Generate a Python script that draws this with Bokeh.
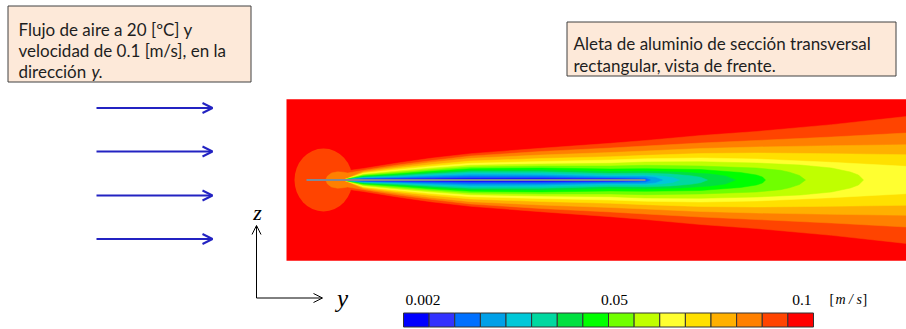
from bokeh.plotting import figure
from bokeh.models import Range1d, Arrow, OpenHead
from bokeh.core.properties import value
from bokeh.embed import file_html
from bokeh.resources import INLINE

# ---------------------------------------------------------------------------
# Velocity field around the fin (front view), contour bands of |v| [m/s].
# Coordinates in mm: y measured downstream from the fin leading edge,
# z measured from the fin mid-plane. Each band is given by its half-width
# at a number of downstream stations.
# ---------------------------------------------------------------------------
LEVEL_COLORS = ["#0000FF", "#3232FF", "#0070FF", "#00A0E8", "#00C8D8", "#00D8A0",
                "#00E040", "#00FF00", "#70FF00", "#C0FF00", "#FFFF30", "#FFE000",
                "#FFB000", "#FF8000", "#FF4400", "#FF0000"]
TICK_LABELS = ["0.002", "0.05", "0.1"]
UNIT_LABEL = "m / s"

DOMAIN_Y = [-20, 600]
DOMAIN_Z = [-80.75, 80.75]
FIN_Y = [0, 339]

# stagnation zone at the leading edge (band 14)
BUBBLE_Y, BUBBLE_W, BUBBLE_H = 17, 58, 63

WAKE_Y_14 = [20, 37, 46, 57, 91, 124, 164, 234, 304, 339, 394, 450, 525, 600]
WAKE_H_14 = [0, 8.5, 10, 11.5, 17, 21.7, 26.3, 31.7, 36.7, 39.5, 44.5, 48.5, 55.3, 63.5]
WAKE_Y_13 = [19, 21, 25, 31, 37, 41, 46, 57, 91, 124, 164, 234, 304, 339, 394, 450, 525, 600]
WAKE_H_13 = [0, 4, 7, 8.2, 7.8, 7, 7.8, 9.7, 15, 19.3, 24, 28.5, 32, 34, 37, 39.5, 43, 47]
WAKE_Y_12 = [37, 57, 91, 124, 164, 234, 304, 339, 394, 450, 525, 600]
WAKE_H_12 = [0, 8.6, 13.3, 17.5, 21.7, 25, 27.5, 29, 31.5, 33, 34.3, 35.3]
WAKE_Y_11 = [37, 57, 91, 124, 164, 234, 304, 339, 394, 450, 525, 600]
WAKE_H_11 = [0, 7.6, 11.7, 15.3, 19, 21.5, 23.3, 24.7, 26.5, 27, 26.3, 25.3]
WAKE_Y_10 = [37, 57, 91, 124, 164, 234, 304, 339, 394, 450, 525, 600]
WAKE_H_10 = [0, 6.7, 10.3, 13.5, 16.7, 18.5, 20, 21.3, 22, 21, 17.7, 13.7]
WAKE_Y_9 = [37, 57, 91, 124, 164, 234, 304, 339, 394, 450, 494, 525, 544, 552, 557]
WAKE_H_9 = [0, 5.8, 9, 11.8, 14.7, 16, 16.7, 18, 18.3, 17, 15, 12, 8, 5, 0]
WAKE_Y_8 = [37, 57, 91, 124, 164, 234, 304, 339, 394, 450, 474, 483, 493, 499]
WAKE_H_8 = [0, 5.0, 7.7, 10.3, 13, 14, 14, 14.7, 14, 12, 9.7, 7.8, 4.5, 0]
WAKE_Y_7 = [37, 57, 91, 124, 164, 234, 304, 339, 394, 434, 450, 456, 459]
WAKE_H_7 = [0, 4.1, 6.3, 8.8, 11.3, 12, 11, 11.3, 10.5, 7.5, 5, 3, 0]
WAKE_Y_6 = [37, 57, 91, 124, 164, 234, 304, 339, 374, 404, 419, 429]
WAKE_H_6 = [0, 3.4, 5.3, 7.5, 9.7, 10, 8.5, 8.7, 8, 6, 4, 0]
WAKE_Y_5 = [37, 57, 91, 124, 164, 234, 304, 339, 364, 384, 394, 401]
WAKE_H_5 = [0, 2.8, 4.3, 6.2, 8.3, 8.3, 6.5, 6.8, 6, 4.3, 2.8, 0]
WAKE_Y_4 = [37, 57, 91, 124, 164, 234, 304, 339, 354, 366, 373]
WAKE_H_4 = [0, 2.2, 3.3, 4.9, 6.7, 6.5, 4.8, 4.8, 4, 2.5, 0]
WAKE_Y_3 = [37, 57, 91, 124, 164, 234, 304, 339, 349, 356]
WAKE_H_3 = [0, 1.7, 2.7, 4, 5.3, 5, 3.4, 3.5, 2.5, 0]
WAKE_Y_2 = [37, 57, 91, 124, 164, 234, 304, 339, 344]
WAKE_H_2 = [0, 1.3, 2, 2.8, 3.7, 3.5, 2.3, 2, 0]
WAKE_Y_1 = [37, 57, 91, 124, 164, 234, 304, 330, 340]
WAKE_H_1 = [0, 0.9, 1.3, 1.8, 2.3, 2.2, 1.4, 1, 0]
WAKE_Y_0 = [37, 57, 91, 124, 164, 234, 304, 324, 334]
WAKE_H_0 = [0, 0.5, 0.7, 1, 1.3, 1.2, 0.8, 0.5, 0]

WAKE_BANDS = [
    (14, WAKE_Y_14, WAKE_H_14), (13, WAKE_Y_13, WAKE_H_13), (12, WAKE_Y_12, WAKE_H_12),
    (11, WAKE_Y_11, WAKE_H_11), (10, WAKE_Y_10, WAKE_H_10), (9, WAKE_Y_9, WAKE_H_9),
    (8, WAKE_Y_8, WAKE_H_8), (7, WAKE_Y_7, WAKE_H_7), (6, WAKE_Y_6, WAKE_H_6),
    (5, WAKE_Y_5, WAKE_H_5), (4, WAKE_Y_4, WAKE_H_4), (3, WAKE_Y_3, WAKE_H_3),
    (2, WAKE_Y_2, WAKE_H_2), (1, WAKE_Y_1, WAKE_H_1), (0, WAKE_Y_0, WAKE_H_0),
]

# ---------------------------------------------------------------------------
# Page layout (pixels of the 906 x 329 canvas)
# ---------------------------------------------------------------------------
W, H = 906, 329
ORIGIN_PX, CENTER_PY = 306, 179.5


def sx(px):
    return px - ORIGIN_PX


def sy(py):
    return CENTER_PY - py


p = figure(width=W, height=H, output_backend="svg", toolbar_location=None,
           x_range=Range1d(sx(0), sx(W)), y_range=Range1d(sy(H), sy(0)),
           x_axis_location=None, y_axis_location=None, min_border=0)
p.grid.visible = False
p.outline_line_color = None
p.background_fill_color = "white"
p.border_fill_color = "white"

# free stream
p.quad(left=DOMAIN_Y[0], right=DOMAIN_Y[1], bottom=DOMAIN_Z[0], top=DOMAIN_Z[1],
       fill_color=LEVEL_COLORS[15], line_color=None)
p.ellipse(x=BUBBLE_Y, y=0, width=BUBBLE_W, height=BUBBLE_H,
          fill_color=LEVEL_COLORS[14], line_color=None)

for level, ys, hs in WAKE_BANDS:
    px_ = list(ys) + list(reversed(ys))
    pz_ = list(hs) + [-h for h in reversed(hs)]
    p.patch(px_, pz_, fill_color=LEVEL_COLORS[level], line_color=LEVEL_COLORS[level],
            line_width=0.5)

# the fin itself, seen edge-on
p.line(FIN_Y, [0, 0], line_color="#7E8A98", line_width=2)

# ---- annotation boxes ----
BOX_FILL, BOX_LINE = "#FDE9D9", "#404040"
p.quad(left=sx(7.5), right=sx(250.5), top=sy(5.5), bottom=sy(81.5),
       fill_color=BOX_FILL, line_color=BOX_LINE, line_width=1)
p.quad(left=sx(566.5), right=sx(895.5), top=sy(21.5), bottom=sy(75.5),
       fill_color=BOX_FILL, line_color=BOX_LINE, line_width=1)

sans = value("Lato")
fs = "17px"
txt = "#1E1E1E"
p.text(x=[sx(18)] * 2, y=[sy(28.5), sy(50)],
       text=["Flujo de aire a 20 [ºC] y", "velocidad de 0.1 [m/s], en la"],
       text_font=sans, text_font_size=fs, text_color=txt,
       text_baseline="alphabetic", text_align="left")
p.text(x=[sx(18)], y=[sy(71)], text=["dirección"],
       text_font=sans, text_font_size=fs, text_color=txt,
       text_baseline="alphabetic", text_align="left")
p.text(x=[sx(91)], y=[sy(71)], text=["y."],
       text_font=sans, text_font_size=fs, text_font_style="italic", text_color=txt,
       text_baseline="alphabetic", text_align="left")
p.text(x=[sx(573)], y=[sy(43)], text=["Aleta de aluminio de sección transversal"],
       text_font=sans, text_font_size=fs, text_color=txt,
       text_baseline="alphabetic", text_align="left")
p.text(x=[sx(573)], y=[sy(64.5)], text=["rectangular, vista de frente."],
       text_font=sans, text_font_size=fs, text_color=txt,
       text_baseline="alphabetic", text_align="left")

# ---- incoming flow arrows ----
FLOW_COLOR = "#2323C2"
for py in [107.5, 151, 195, 238.5]:
    p.add_layout(Arrow(x_start=sx(96), y_start=sy(py), x_end=sx(212), y_end=sy(py),
                       line_color=FLOW_COLOR, line_width=2,
                       end=OpenHead(size=10, line_color=FLOW_COLOR, line_width=2)))

# ---- y / z axis triad ----
p.add_layout(Arrow(x_start=sx(256), y_start=sy(297.5), x_end=sx(256), y_end=sy(225),
                   line_color="black", line_width=1,
                   end=OpenHead(size=9, line_color="black", line_width=1)))
p.add_layout(Arrow(x_start=sx(256), y_start=sy(297.5), x_end=sx(322), y_end=sy(297.5),
                   line_color="black", line_width=1,
                   end=OpenHead(size=9, line_color="black", line_width=1)))
serif = value("Liberation Serif")
p.text(x=[sx(257)], y=[sy(212)], text=["z"], text_font=serif, text_font_size="22px",
       text_font_style="italic", text_align="center", text_baseline="alphabetic",
       text_color="black")
p.text(x=[sx(342)], y=[sy(298)], text=["y"], text_font=serif, text_font_size="25px",
       text_font_style="italic", text_align="center", text_baseline="alphabetic",
       text_color="black")

# ---- colour scale ----
BAR_L, BAR_R, BAR_T, BAR_B = 403, 813, 312.5, 326.5
n = len(LEVEL_COLORS)
cw = (BAR_R - BAR_L) / n
p.quad(left=[sx(BAR_L + i * cw) for i in range(n)],
       right=[sx(BAR_L + (i + 1) * cw) for i in range(n)],
       top=sy(BAR_T), bottom=sy(BAR_B), fill_color=LEVEL_COLORS,
       line_color="#333333", line_width=1)

tick_px = [405, 614, 811]
tick_align = ["left", "center", "right"]
for lbl, tx, al in zip(TICK_LABELS, tick_px, tick_align):
    p.text(x=[sx(tx)], y=[sy(299.5)], text=[lbl], text_font=serif, text_font_size="15.5px",
           text_align=al, text_baseline="alphabetic", text_color="black")
p.text(x=[sx(829)], y=[sy(298.5)], text=["["], text_font=serif, text_font_size="14px",
       text_align="left", text_baseline="alphabetic", text_color="black")
p.text(x=[sx(835)], y=[sy(298.5)], text=[UNIT_LABEL], text_font=serif, text_font_size="14px",
       text_font_style="italic", text_align="left", text_baseline="alphabetic", text_color="black")
p.text(x=[sx(862)], y=[sy(298.5)], text=["]"], text_font=serif, text_font_size="14px",
       text_align="left", text_baseline="alphabetic", text_color="black")

open("out.html", "w").write(file_html(p, INLINE))
